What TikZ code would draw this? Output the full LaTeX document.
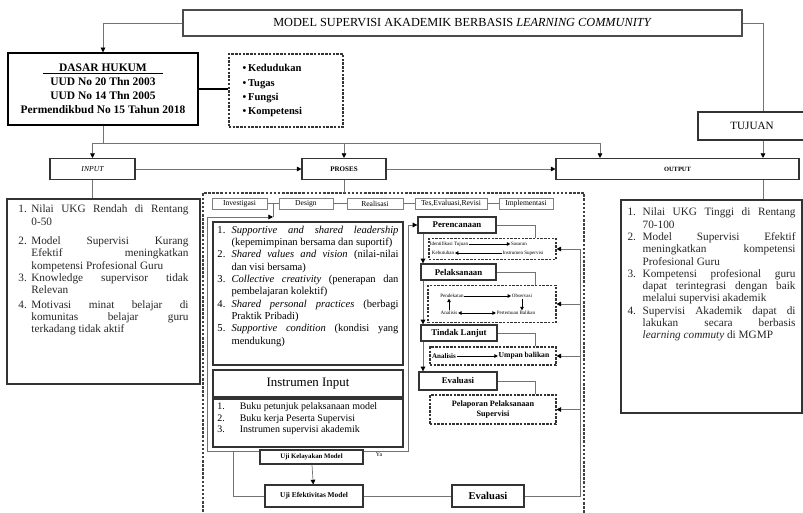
\documentclass[tikz,border=0pt]{standalone}
\usepackage{fontspec}
\setmainfont{Liberation Serif}
\usetikzlibrary{arrows.meta}
\newcommand{\listentry}[3]{\par\noindent\hangindent=#1\hangafter=1\makebox[#1][l]{#2}#3}

\begin{document}
\begin{tikzpicture}[x=0.03cm,y=-0.03cm,
  box/.style={draw=black!80,line width=0.9pt,fill=white,inner sep=1pt},
  thinbox/.style={draw=black!50,line width=0.6pt,fill=white,inner sep=1pt,minimum height=0.33cm,font=\fontsize{6.5}{7}\selectfont},
  midbox/.style={box,line width=1.1pt,minimum height=0.48cm,font=\bfseries\fontsize{7.5}{9}\selectfont},
  dbox/.style={draw=black!80,line width=0.9pt,dash pattern=on 2pt off 1.2pt,fill=white,inner sep=1pt},
  frame/.style={draw=black!75,line width=1.1pt,dash pattern=on 2.2pt off 1.3pt},
  wire/.style={draw=black!55,line width=0.6pt},
  arr/.style={wire,-{Triangle[length=4pt,width=4pt,color=black]}},
  smallarr/.style={black,line width=0.7pt,-{Triangle[length=3pt,width=3pt]}},
  minitext/.style={inner sep=0.5pt,font=\fontsize{4.3}{5}\selectfont}]
  \useasboundingbox (0,0) rectangle (803,513);

  \node[box,draw=black!70,minimum width=16.77cm,minimum height=0.78cm,
    font=\fontsize{10.5}{12}\selectfont] (title) at (462.5,23)
    {MODEL SUPERVISI AKADEMIK BERBASIS \textit{LEARNING COMMUNITY}};
  \node[box,draw=black,line width=1.2pt,minimum width=5.7cm,minimum height=2.16cm,
    align=center,font=\bfseries\fontsize{9.8}{12}\selectfont] (dasar) at (103,89)
    {\underline{\makebox[3.6cm]{DASAR HUKUM}}\\UUD No 20 Thn 2003\\UUD No 14 Thn 2005\\Permendikbud No 15 Tahun 2018};
  \node[dbox,minimum width=3.42cm,minimum height=2.19cm,text width=2.6cm,align=left,
    font=\bfseries\fontsize{9}{12}\selectfont] (tugas) at (286,90.5)
    {\textbullet\,Kedudukan\\\textbullet\,Tugas\\\textbullet\,Fungsi\\\textbullet\,Kompetensi};
  \node[box,minimum width=3.24cm,minimum height=0.84cm,font=\fontsize{9.5}{11}\selectfont] (tujuan) at (752,126) {TUJUAN};

  \node[box,minimum width=2.55cm,minimum height=0.63cm,font=\itshape\fontsize{6.5}{8}\selectfont] (input) at (92.5,169) {INPUT};
  \node[box,minimum width=2.52cm,minimum height=0.63cm,font=\bfseries\fontsize{6}{7}\selectfont] (proses) at (344,169) {PROSES};
  \node[box,minimum width=7.29cm,minimum height=0.63cm,font=\bfseries\fontsize{5.5}{7}\selectfont] (output) at (677.5,169) {OUTPUT};

  \node[box,line width=1.3pt,minimum width=5.79cm,minimum height=5.55cm,text=black!85,
    font=\fontsize{9.6}{10.5}\selectfont] (inlist) at (103.5,291.5)
    {\parbox[c][5.19cm][t]{5.1cm}{%
      \listentry{11pt}{1.}{Nilai UKG Rendah di Rentang\linebreak 0-50}
      \vspace{6pt}
      \listentry{11pt}{2.}{Model Supervisi Kurang\linebreak Efektif meningkatkan\linebreak kompetensi Profesional Guru}
      \listentry{11pt}{3.}{Knowledge supervisor tidak\linebreak Relevan}
      \vspace{2pt}
      \listentry{11pt}{4.}{Motivasi minat belajar di\linebreak komunitas belajar guru\linebreak terkadang tidak aktif}}};
  \node[box,line width=1.3pt,minimum width=5.43cm,minimum height=6.39cm,text=black!85,
    font=\fontsize{9.6}{10.5}\selectfont] (outlist) at (711.5,306.5)
    {\parbox[c][5.91cm][t]{5.04cm}{%
      \listentry{13pt}{1.}{Nilai UKG Tinggi di Rentang\linebreak 70-100}
      \listentry{13pt}{2.}{Model Supervisi Efektif\linebreak meningkatkan kompetensi\linebreak Profesional Guru}
      \listentry{13pt}{3.}{Kompetensi profesional guru\linebreak dapat terintegrasi dengan baik\linebreak melalui supervisi akademik}
      \listentry{13pt}{4.}{Supervisi Akademik dapat di\linebreak lakukan secara berbasis\linebreak \textit{learning commuty} di MGMP}}};

  \draw[frame] (203,520) |- (584,193) -- (584,520);

  \node[thinbox,minimum width=1.65cm] (inv) at (239.5,203.5) {Investigasi};
  \node[thinbox,minimum width=1.62cm] (des) at (306,203.5) {Design};
  \node[thinbox,minimum width=1.68cm] (rea) at (375,203.5) {Realisasi};
  \node[thinbox,minimum width=2.16cm] (tes) at (451,203.5) {Tes,Evaluasi,Revisi};
  \node[thinbox,minimum width=1.62cm] (imp) at (526,203.5) {Implementasi};

  \node[box,line width=1.2pt,minimum width=5.7cm,minimum height=4.29cm,
    font=\fontsize{9}{10.5}\selectfont] (plc) at (308,293.5)
    {\parbox[c][4.05cm][t]{5.43cm}{%
      \listentry{12pt}{1.}{\textit{Supportive and shared leadership}\linebreak (kepemimpinan bersama dan suportif)}
      \listentry{12pt}{2.}{\textit{Shared values and vision} (nilai-nilai\linebreak dan visi bersama)}
      \listentry{12pt}{3.}{\textit{Collective creativity} (penerapan dan\linebreak pembelajaran kolektif)}
      \listentry{12pt}{4.}{\textit{Shared personal practices} (berbagi\linebreak Praktik Pribadi)}
      \listentry{12pt}{5.}{\textit{Supportive condition} (kondisi yang\linebreak mendukung)}}};
  \node[box,line width=1.2pt,minimum width=5.7cm,minimum height=0.81cm,
    font=\fontsize{11}{13}\selectfont] (instr) at (308,383.5) {Instrumen Input};
  \node[box,line width=1.2pt,minimum width=5.7cm,minimum height=1.44cm,
    font=\fontsize{8.5}{9.8}\selectfont] (instrlist) at (308,423)
    {\parbox[c][1.2cm][t]{5.43cm}{\raggedright
      \listentry{19pt}{1.}{Buku petunjuk pelaksanaan model}
      \listentry{19pt}{2.}{Buku kerja Peserta Supervisi}
      \listentry{19pt}{3.}{Instrumen supervisi akademik}}};

  \node[midbox,minimum width=2.34cm] (perenc) at (457,225) {Perencanaan};
  \node[midbox,minimum width=2.25cm] (pelaks) at (458.5,272) {Pelaksanaan};
  \node[midbox,minimum width=2.28cm] (tindak) at (459,333) {Tindak Lanjut};
  \node[midbox,minimum width=2.34cm,minimum height=0.54cm] (evalm) at (458,381) {Evaluasi};
  \node[dbox,minimum width=3.81cm,minimum height=0.63cm] (dbox1) at (492.5,249) {};
  \node[dbox,minimum width=3.84cm,minimum height=1.11cm] (dbox2) at (492,304) {};
  \node[dbox,minimum width=3.78cm,minimum height=0.54cm] (dbox3) at (493,356) {};
  \node[dbox,minimum width=3.78cm,minimum height=0.87cm,align=center,
    font=\bfseries\fontsize{7}{9}\selectfont] (dbox4) at (493,409.5) {Pelaporan Pelaksanaan\\Supervisi};

  \node[minitext] (idt) at (449,244) {Identifikasi Tujuan};
  \node[minitext] (keb) at (443,253) {Kebutuhan};
  \node[minitext] (sas) at (519,244) {Sasaran};
  \node[minitext] (ins) at (523,253) {Instrumen Supervisi};
  \draw[smallarr] (idt.east) -- (sas.west);
  \draw[smallarr] (ins.west) -- (keb.east);
  \node[minitext] (pend) at (452,296) {Pendekatan};
  \node[minitext] (obs) at (522,296) {Observasi};
  \node[minitext] (anl) at (449,313) {Analisis};
  \node[minitext] (pert) at (516,313) {Pertemuan Balikan};
  \draw[smallarr] (pend.east) -- (obs.west);
  \draw[smallarr] (obs.south) -- (obs.south |- pert.north);
  \draw[smallarr] (anl.north) -- (anl.north |- pend.south);
  \draw[smallarr,{Triangle[length=3pt,width=3pt]}-{Triangle[length=3pt,width=3pt]}] (anl.east) -- (pert.west);
  \node[inner sep=0.5pt,font=\bfseries\fontsize{6}{7}\selectfont] (anl2) at (444,356) {Analisis};
  \node[inner sep=0.5pt,font=\bfseries\fontsize{6.5}{7}\selectfont] (umpan) at (524,356) {Umpan balikan};
  \draw[smallarr] (anl2.east) -- (umpan.west);

  \coordinate (jn) at (273,217);
  \coordinate (fl) at (207,217);
  \coordinate (fr) at (408,451);
  \coordinate (fb) at (233,451);
  \draw[wire] (jn |- inv.east) -- (jn);
  \draw[arr] (fl) -- (jn);
  \draw[arr] (fl) |- (fr) |- (perenc.west);

  \node[box,minimum width=3.09cm,minimum height=0.42cm,font=\bfseries\fontsize{5.8}{7}\selectfont] (ujikel) at (311.5,457) {Uji Kelayakan Model};
  \node[box,minimum width=2.94cm,minimum height=0.66cm,font=\bfseries\fontsize{6.3}{7}\selectfont] (ujiefek) at (314,496) {Uji Efektivitas Model};
  \node[box,minimum width=2.16cm,minimum height=0.66cm,font=\bfseries\fontsize{9}{10}\selectfont] (evalb) at (488,496) {Evaluasi};
  \node[inner sep=0pt,font=\fontsize{5}{6}\selectfont] (ya) at (379,455) {Ya};

  \coordinate (tj) at (763,0);
  \coordinate (bus) at (600,143);
  \coordinate (ftop) at (344,193);
  \coordinate (rv) at (580,0);
  \coordinate (rc) at (535,0);
  \coordinate (lc) at (423,0);

  \draw[arr] (title.west) -| (dasar.north);
  \draw[wire] (title.east) -| (tujuan.north -| tj);
  \draw[arr] (tujuan.south -| tj) -- (output.north -| tj);
  \draw[draw=black,line width=1.4pt] (dasar.east) -- (dasar.east -| tugas.west);
  \draw[wire] (dasar.south) -- (dasar.south |- bus);
  \draw[wire] (input.north |- bus) -- (bus);
  \draw[arr] (input.north |- bus) -- (input.north);
  \draw[arr] (proses.north |- bus) -- (proses.north);
  \draw[arr] (bus) -- (output.north -| bus);
  \draw[arr] (input) -- (proses);
  \draw[arr] (proses) -- (output);
  \draw[wire] (input.south) -- (input.south |- inlist.north);
  \draw[wire] (output.south -| tj) -- (outlist.north -| tj);
  \draw[wire] (proses.south) -- (proses.south |- ftop);

  \draw[wire] (inv) -- (des);
  \draw[wire] (des) -- (rea);
  \draw[wire] (rea) -- (tes);
  \draw[wire] (tes) -- (imp);

  \draw[wire] (perenc.east) -| (rc |- dbox1.north);
  \draw[wire] (pelaks.east) -| (rc |- dbox2.north);
  \draw[wire] (tindak.east) -| (rc |- dbox3.north);
  \draw[wire] (evalm.east) -| (rc |- dbox4.north);
  \draw[arr] (lc |- perenc.south) -- (lc |- pelaks.north);
  \draw[arr] (lc |- pelaks.south) -- (lc |- tindak.north);
  \draw[arr] (lc |- tindak.south) -- (lc |- evalm.north);

  \draw[wire] (fb) |- (ujiefek.west);
  \draw[arr] (ujikel) -- (ujiefek);
  \draw[wire] (ujiefek) -- (evalb);
  \draw[wire] (evalb.east) -| (rv |- dbox1.east);
  \draw[arr] (rv |- dbox1.east) -- (dbox1.east);
  \draw[arr] (rv |- dbox2.east) -- (dbox2.east);
  \draw[arr] (rv |- dbox3.east) -- (dbox3.east);
  \draw[arr] (rv |- dbox4.east) -- (dbox4.east);
\end{tikzpicture}
\end{document}
